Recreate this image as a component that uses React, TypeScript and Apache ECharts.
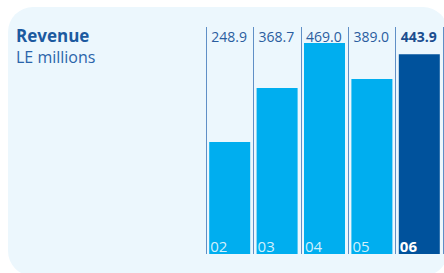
import React, { useEffect, useRef } from "react";
import * as echarts from "echarts";

const categories = ["02", "03", "04", "05", "06"];
const revenue = [248.9, 368.7, 469.0, 389.0, 443.9];
const valueLabels = ["248.9", "368.7", "469.0", "389.0", "443.9"];
const highlightIndex = 4;
const axisMax = 504.5;

const LIGHT = "#00aeef";
const DARK = "#00529c";
const TEXT = "#2a5d9f";
const FONT = "'Open Sans', 'Noto Sans', sans-serif";

export default function App() {
  const ref = useRef<HTMLDivElement>(null);
  useEffect(() => {
    document.body.style.margin = "0";
    if (!ref.current) return;
    const chart = echarts.init(ref.current, null, { renderer: "svg" });
    chart.setOption({
      animation: false,
      graphic: [
        {
          type: "rect",
          z: -10,
          silent: true,
          shape: { x: 8, y: 7, width: 440, height: 269, r: 25 },
          style: { fill: "#ecf7fd" },
        },
        {
          type: "text",
          left: 16,
          top: 27,
          style: {
            text: "Revenue",
            fontFamily: FONT,
            fontWeight: "bold",
            fontSize: 17,
            fill: "#1c5aa0",
          },
        },
        {
          type: "text",
          left: 16,
          top: 49,
          style: {
            text: "LE millions",
            fontFamily: FONT,
            fontSize: 16,
            fill: "#2a64aa",
          },
        },
      ],
      grid: { left: 206, right: 1, top: 27, bottom: 19, containLabel: false },
      xAxis: {
        type: "category",
        data: categories,
        boundaryGap: true,
        axisLine: { show: false },
        axisTick: { show: false },
        axisLabel: { show: false },
        splitLine: {
          show: true,
          interval: 0,
          lineStyle: { color: "#5f8fc6", width: 1 },
        },
      },
      yAxis: {
        type: "value",
        min: 0,
        max: axisMax,
        show: false,
        splitLine: { show: false },
      },
      series: [
        {
          type: "bar",
          barWidth: 41,
          barGap: "-100%",
          z: 1,
          silent: true,
          data: valueLabels.map((t, i) => ({
            value: axisMax,
            label: {
              show: true,
              position: [2, 2],
              align: "left",
              verticalAlign: "top",
              formatter: t,
              fontFamily: FONT,
              fontSize: 14,
              fontWeight: i === highlightIndex ? "bold" : "normal",
              color: i === highlightIndex ? "#1a4d8f" : TEXT,
            },
          })),
          itemStyle: { color: "transparent" },
        },
        {
          type: "bar",
          barWidth: 41,
          barGap: "-100%",
          z: 2,
          data: revenue.map((v, i) => ({
            value: v,
            itemStyle: { color: i === highlightIndex ? DARK : LIGHT },
            label: {
              show: true,
              position: "insideBottomLeft",
              distance: 1,
              formatter: categories[i],
              fontFamily: FONT,
              fontSize: 15,
              fontWeight: i === highlightIndex ? "bold" : "normal",
              color: i === highlightIndex ? "#ffffff" : "#d2f0fc",
            },
          })),
        },
      ],
    });
    return () => chart.dispose();
  }, []);
  return <div ref={ref} style={{ width: 444, height: 273 }} />;
}
